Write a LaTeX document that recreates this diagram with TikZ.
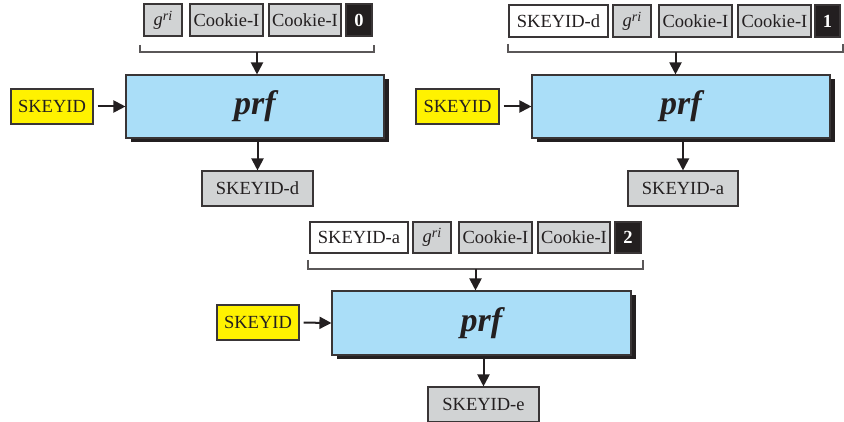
\documentclass[tikz,border=0pt]{standalone}
\usepackage{fontspec}
\setmainfont{Liberation Serif}
\usetikzlibrary{arrows.meta,shadows}
\definecolor{boxgray}{RGB}{209,211,212}
\definecolor{prfblue}{RGB}{170,222,248}
\definecolor{keyyellow}{RGB}{255,242,0}
\definecolor{ink}{RGB}{35,31,32}
\newcommand{\lblfont}{\fontsize{18.5}{20}\selectfont}
\newcommand{\prffont}{\fontsize{34}{36}\selectfont\bfseries\itshape}
\newcommand{\gri}{\textit{g}\raisebox{0.6ex}{\fontsize{14}{15}\selectfont\textit{ri}}}
\tikzset{
  basebox/.style={draw=ink!90, line width=1.1pt, inner sep=0pt, font=\lblfont, text=ink},
  gbox/.style={basebox, fill=boxgray, minimum height=32pt},
  wbox/.style={basebox, fill=white, minimum height=32pt},
  nbox/.style={basebox, fill=ink, text=white, font=\lblfont\bfseries, minimum height=32pt},
  ybox/.style={basebox, fill=keyyellow, minimum height=35pt},
  obox/.style={basebox, fill=boxgray, minimum height=35pt},
  prfbox/.style={draw=ink!90, line width=1.1pt, fill=prfblue, inner sep=0pt, font=\prffont, text=ink,
    drop shadow={shadow xshift=5pt, shadow yshift=-4pt, fill=ink, opacity=1}},
  brk/.style={draw=ink!75, line width=1.2pt},
  arr/.style={draw=ink, line width=2pt, -{Triangle[length=12pt,width=12pt]}},
}
\begin{document}
\begin{tikzpicture}[x=1pt,y=-1pt]
\useasboundingbox (0,0) rectangle (844,422);
% ---------- Panel 1 ----------
\node[gbox, minimum width=38pt] (g1) at (163,20) {\gri};
\node[gbox, minimum width=73pt] (c11) at (226.5,20) {Cookie-I};
\node[gbox, minimum width=72pt] (c12) at (305,20) {Cookie-I};
\node[nbox, minimum width=26pt] (n1) at (359,20) {0};
\draw[brk] (140,45) -- (140,52) -- (374,52) -- (374,45);
\coordinate (b1) at (257,52);
\node[prfbox, minimum width=258pt, minimum height=63pt] (prf1) at (255,106.5) {prf};
\node[ybox, minimum width=82pt] (k1) at (52,106.5) {SKEYID};
\node[obox, minimum width=111pt] (o1) at (257.5,188.5) {SKEYID-d};
\draw[arr] (b1) -- (b1 |- prf1.north);
\draw[arr, shorten <=4pt] (k1.east) -- (prf1.west);
\draw[arr] (o1.north |- prf1.south) -- (o1.north);
% ---------- Panel 2 ----------
\node[wbox, minimum width=99pt] (s2) at (558.5,21) {SKEYID-d};
\node[gbox, minimum width=38pt] (g2) at (632,21) {\gri};
\node[gbox, minimum width=73pt] (c21) at (695.5,21) {Cookie-I};
\node[gbox, minimum width=73pt] (c22) at (774.5,21) {Cookie-I};
\node[nbox, minimum width=25pt] (n2) at (827.5,21) {1};
\draw[brk] (508,44) -- (508,52) -- (843,52) -- (843,44);
\coordinate (b2) at (675.5,52);
\node[prfbox, minimum width=298pt, minimum height=63pt] (prf2) at (681,106.5) {prf};
\node[ybox, minimum width=83pt] (k2) at (457.5,106.5) {SKEYID};
\node[obox, minimum width=110pt] (o2) at (683,188.5) {SKEYID-a};
\draw[arr] (b2) -- (b2 |- prf2.north);
\draw[arr, shorten <=4pt] (k2.east) -- (prf2.west);
\draw[arr] (o2.north |- prf2.south) -- (o2.north);
% ---------- Panel 3 ----------
\node[wbox, minimum width=98pt, minimum height=31pt] (s3) at (359,237.5) {SKEYID-a};
\node[gbox, minimum width=38pt, minimum height=31pt] (g3) at (432,237.5) {\gri};
\node[gbox, minimum width=73pt, minimum height=31pt] (c31) at (495.5,237.5) {Cookie-I};
\node[gbox, minimum width=72pt, minimum height=31pt] (c32) at (574,237.5) {Cookie-I};
\node[nbox, minimum width=26pt, minimum height=31pt] (n3) at (628,237.5) {2};
\draw[brk] (308,260) -- (308,269) -- (643,269) -- (643,260);
\coordinate (b3) at (475.5,269);
\node[prfbox, minimum width=299pt, minimum height=64pt] (prf3) at (481.5,323) {prf};
\node[ybox, minimum width=82pt] (k3) at (258,322.5) {SKEYID};
\node[obox, minimum width=111pt] (o3) at (483.5,404.5) {SKEYID-e};
\draw[arr] (b3) -- (b3 |- prf3.north);
\draw[arr, shorten <=4pt] (k3.east) -- (prf3.west);
\draw[arr] (o3.north |- prf3.south) -- (o3.north);
\end{tikzpicture}
\end{document}
